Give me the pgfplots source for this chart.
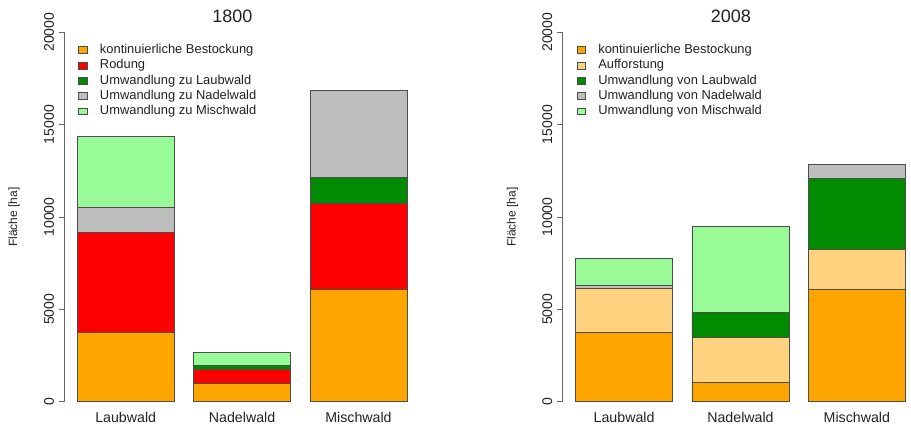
\documentclass[border=0pt]{standalone}
\usepackage{pgfplots}
\pgfplotsset{compat=1.18}
\usepackage{fontspec}
\setmainfont{Liberation Sans}
\definecolor{cOrange}{HTML}{FFA500}
\definecolor{cRed}{HTML}{FF0000}
\definecolor{cDGreen}{HTML}{008B00}
\definecolor{cGrey}{HTML}{BEBEBE}
\definecolor{cLGreen}{HTML}{98FB98}
\definecolor{cAuff}{HTML}{FFD280}
\definecolor{cText}{HTML}{222222}
\pgfplotsset{
  sw/.style={legend image code/.code={\draw[##1, line width=0.5bp] (0bp,0bp) rectangle (8.3bp,6.8bp);}},
  forest/.style={
    scale only axis, height=399bp,
    ymin=-800, ymax=20800, xmin=0.064,
    ybar stacked, bar width=1,
    axis x line*=bottom, axis y line*=left,
    x axis line style={draw=none}, y axis line style={draw=none},
    xtick={0.7,1.9,3.1}, xticklabels={Laubwald,Nadelwald,Mischwald},
    xtick style={draw=none},
    xticklabel style={font=\fontsize{14.2bp}{16bp}\selectfont, text=cText, anchor=base, yshift=-1bp},
    scaled y ticks=false,
    ytick={0,5000,10000,15000,20000}, yticklabels={0,5000,10000,15000,20000},
    ytick style={draw=black!60, line width=0.7bp},
    tick align=outside, major tick length=5.4bp,
    yticklabel style={font=\fontsize{14bp}{16bp}\selectfont, text=cText, rotate=90, anchor=south, inner sep=4.5bp},
    every axis y label/.style={at={(rel axis cs:0,0.5)}, xshift=-50bp, rotate=90, anchor=center, font=\fontsize{12bp}{14bp}\selectfont, text=cText},
    ylabel={Fläche [ha]},
    clip=false,
    legend style={at={(axis cs:0.21,19421)}, anchor=north west, draw=none, fill=none, inner sep=0pt, row sep=0pt, column sep=12.8bp, font=\fontsize{12.9bp}{15bp}\selectfont, text=cText, nodes={inner sep=0pt, text height=10.3bp, text depth=5bp, anchor=base west}},
    legend cell align=left,
    title style={at={(axis cs:1.8,20200)}, anchor=base, font=\fontsize{18bp}{20bp}\selectfont, text=cText},
    every axis plot/.append style={draw=black!70, line width=0.7bp},
  }
}
\begin{document}
\begin{tikzpicture}
\begin{axis}[forest, at={(64bp,13.5bp)}, anchor=south west, width=356.2bp, xmax=3.736, title={1800}]
\addplot[fill=cOrange, sw] coordinates {(0.7,3740) (1.9,1000) (3.1,6085)};
\addplot[fill=cRed, sw] coordinates {(0.7,5410) (1.9,770) (3.1,4655)};
\addplot[fill=cDGreen, sw] coordinates {(0.7,0) (1.9,180) (3.1,1425)};
\addplot[fill=cGrey, sw] coordinates {(0.7,1375) (1.9,0) (3.1,4675)};
\addplot[fill=cLGreen, sw] coordinates {(0.7,3820) (1.9,700) (3.1,0)};
\legend{kontinuierliche Bestockung, Rodung, Umwandlung zu Laubwald, Umwandlung zu Nadelwald, Umwandlung zu Mischwald}
\draw[black!60, line width=0.7bp] (axis cs:0.064,0) -- (axis cs:0.064,20000);
\end{axis}
\begin{axis}[forest, at={(562.4bp,13.5bp)}, anchor=south west, width=348.6bp, xmax=3.658, title={2008}]
\addplot[fill=cOrange, sw] coordinates {(0.7,3750) (1.9,1030) (3.1,6100)};
\addplot[fill=cAuff, sw] coordinates {(0.7,2400) (1.9,2435) (3.1,2130)};
\addplot[fill=cDGreen, sw] coordinates {(0.7,0) (1.9,1375) (3.1,3880)};
\addplot[fill=cGrey, sw] coordinates {(0.7,165) (1.9,0) (3.1,720)};
\addplot[fill=cLGreen, sw] coordinates {(0.7,1445) (1.9,4655) (3.1,0)};
\legend{kontinuierliche Bestockung, Aufforstung, Umwandlung von Laubwald, Umwandlung von Nadelwald, Umwandlung von Mischwald}
\draw[black!60, line width=0.7bp] (axis cs:0.064,0) -- (axis cs:0.064,20000);
\end{axis}
\pgfresetboundingbox
\path[use as bounding box] (0,0) rectangle (911bp,430bp);
\end{tikzpicture}
\end{document}
